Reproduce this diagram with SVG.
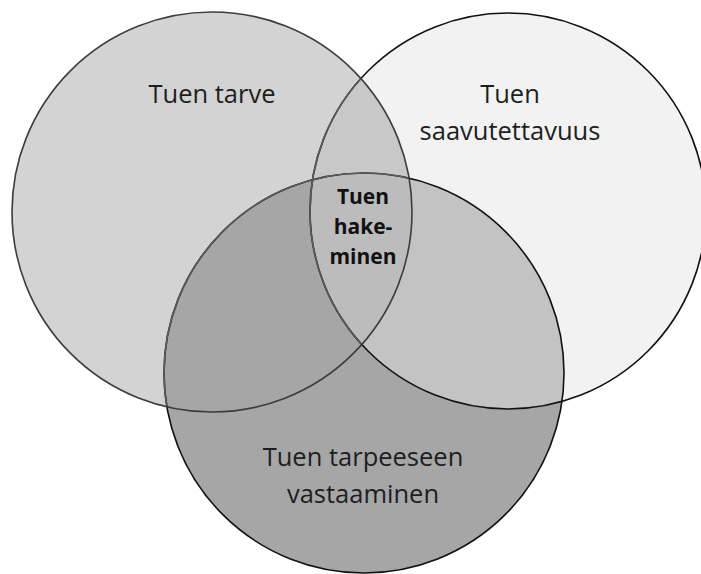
<svg xmlns="http://www.w3.org/2000/svg" width="701" height="574" viewBox="0 0 701 574">
  <style>
    .lbl { font-family: "Open Sans", "Liberation Sans", sans-serif; font-size: 25.5px; fill: #1e1e1e; text-anchor: middle; }
    .bold { font-family: "Open Sans", "Liberation Sans", sans-serif; font-size: 21px; font-weight: bold; fill: #111; text-anchor: middle; }
    .edge { fill: none; stroke-width: 1.6; }
  </style>
  <defs>
    <circle id="cL" cx="212" cy="212" r="200"/>
    <circle id="cR" cx="508" cy="211" r="198"/>
    <circle id="cB" cx="364" cy="373" r="200"/>
    <clipPath id="clipL"><use href="#cL"/></clipPath>
    <clipPath id="clipR"><use href="#cR"/></clipPath>
    <clipPath id="clipB"><use href="#cB"/></clipPath>
  </defs>
  <rect width="701" height="574" fill="#ffffff"/>

  <!-- fills -->
  <g id="fills">
    <use href="#cL" fill="#d3d3d3"/>
    <use href="#cR" fill="#f2f2f2"/>
    <use href="#cB" fill="#a6a6a6"/>
    <use href="#cR" fill="#c8c8c8" clip-path="url(#clipL)"/>
    <use href="#cB" fill="#c3c3c3" clip-path="url(#clipR)"/>
    <g clip-path="url(#clipR)"><use href="#cB" fill="#bcbcbc" clip-path="url(#clipL)"/></g>
  </g>

  <!-- outlines -->
  <g id="outlines">
    <use href="#cR" class="edge" stroke="#111"/>
    <use href="#cB" class="edge" stroke="#111"/>
    <use href="#cR" class="edge" stroke="#5a5a5a" clip-path="url(#clipL)"/>
    <use href="#cB" class="edge" stroke="#5a5a5a" clip-path="url(#clipL)"/>
    <use href="#cL" class="edge" stroke="#3c3c3c"/>
  </g>

  <g id="node-tuen-tarve">
    <text class="lbl" x="212" y="103">Tuen tarve</text>
  </g>
  <g id="node-tuen-saavutettavuus">
    <text class="lbl" x="510" y="103">Tuen</text>
    <text class="lbl" x="510" y="140">saavutettavuus</text>
  </g>
  <g id="node-tuen-tarpeeseen-vastaaminen">
    <text class="lbl" x="363" y="466">Tuen tarpeeseen</text>
    <text class="lbl" x="363" y="503">vastaaminen</text>
  </g>
  <g id="node-tuen-hakeminen">
    <text class="bold" x="363" y="204">Tuen</text>
    <text class="bold" x="363" y="234">hake-</text>
    <text class="bold" x="363" y="264">minen</text>
  </g>
</svg>
